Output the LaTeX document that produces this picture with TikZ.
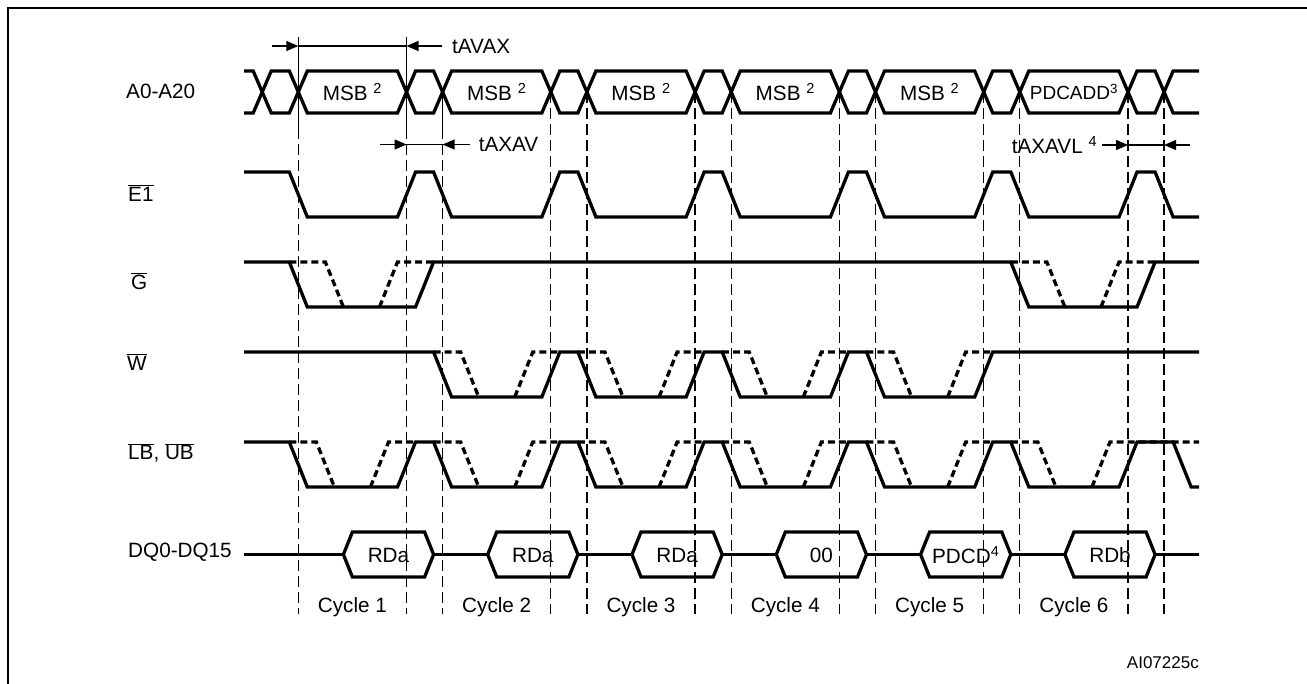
\documentclass[tikz,border=0pt]{standalone}
\usepackage{fontspec}
\setmainfont{Liberation Sans}
\usetikzlibrary{arrows.meta}
\newcommand\ovl[1]{\ensuremath{\overline{\mbox{#1}}}}
\begin{document}
\begin{tikzpicture}[x=1pt,y=-1pt,
  declare function={X(\k,\a)=298.3+144.3*\k+18.04*\a;},
  sig/.style={line width=3.3pt, line join=miter},
  dsig/.style={line width=3.3pt, dash pattern=on 7pt off 4pt},
  guide/.style={line width=1.3pt, dash pattern=on 11pt off 5pt},
  sguide/.style={line width=1.3pt},
  lbl/.style={font=\fontsize{20.7}{24}\selectfont, inner sep=0pt},
  smalllbl/.style={font=\fontsize{19}{22}\selectfont, inner sep=0pt},
  meas/.style={line width=1.3pt},
  tip/.style={-{Triangle[length=12pt,width=10pt]}},
]
\useasboundingbox (0,0) rectangle (1307,684);
% frame
\draw[line width=2.4pt] (8,684) -- (8,8) -- (1307,8);

\def\BT{71}\def\BB{113}\def\BM{92}
% guide lines
\foreach \k/\a in {0/0,0/6}{
  \draw[sguide] ({X(\k,\a)},37) -- ({X(\k,\a)},128);
  \draw[guide] ({X(\k,\a)},128) -- ({X(\k,\a)},614);
}
\draw[sguide] ({X(1,0)},\BM) -- ({X(1,0)},128);
\draw[guide] ({X(1,0)},128) -- ({X(1,0)},614);
\foreach \k in {1,...,5}{
  \draw[guide] ({X(\k,6)},\BM) -- ({X(\k,6)},614);
  \draw[guide] ({X(\k+1,0)},\BM) -- ({X(\k+1,0)},614);
}

% measurements
\coordinate (avax1) at ({X(0,0)},46);
\coordinate (avax2) at ({X(0,6)},46);
\draw[meas,tip] (271.5,46) -- (avax1);
\draw[meas] (avax1) -- (avax2);
\draw[meas,tip] (442,46) -- (avax2);
\node[lbl,anchor=west] (tavax) at (452,46) {tAVAX};

\coordinate (axav1) at ({X(0,6)},144.5);
\coordinate (axav2) at ({X(1,0)},144.5);
\draw[meas,tip] (380,144.5) -- (axav1);
\draw[meas] (axav1) -- (axav2);
\draw[meas,tip] (470,144.5) -- (axav2);
\node[lbl,anchor=west] (taxav) at (478.6,144.5) {tAXAV};

\coordinate (axavl1) at ({X(5,6)},145);
\coordinate (axavl2) at ({X(6,0)},145);
\draw[meas,tip] (1102,145) -- (axavl1);
\draw[meas] (axavl1) -- (axavl2);
\draw[meas,tip] (1190,145) -- (axavl2);
\node[lbl,anchor=west] (taxavl) at (1011.6,145) {tAXAVL \textsuperscript{4}};

% left labels
\node[lbl,anchor=west] (la) at (126,91) {A0-A20};
\node[lbl,anchor=west] (le) at (128,193) {\ovl{E1}};
\node[lbl,anchor=west] (lg) at (131,281) {\ovl{G}};
\node[lbl,anchor=west] (lw) at (127,362) {\ovl{W}};
\node[lbl,anchor=west] (llb) at (128,453) {\ovl{LB}, \ovl{UB}};
\node[lbl,anchor=west] (ldq) at (128,552) {DQ0-DQ15};

% address bus
\draw[sig] (244.2,\BT) \foreach \k in {0,...,6}{
   -- ({X(\k,-2.5)},\BT) -- ({X(\k,-1.5)},\BB) -- ({X(\k,-0.5)},\BB) -- ({X(\k,0.5)},\BT)
  } -- (1199,\BT);
\draw[sig] (244.2,\BB) \foreach \k in {0,...,6}{
   -- ({X(\k,-2.5)},\BB) -- ({X(\k,-1.5)},\BT) -- ({X(\k,-0.5)},\BT) -- ({X(\k,0.5)},\BB)
  } -- (1199,\BB);
\foreach \k in {0,...,4}{
  \node[lbl] (msb\k) at ({X(\k,3)},\BM) {MSB \textsuperscript{2}};
}
\node[smalllbl] (pdcadd) at ({X(5,3)},\BM) {PDCADD\textsuperscript{3}};

% E1
\draw[sig] (244.2,172) \foreach \k in {0,...,5}{
   -- ({X(\k,-0.5)},172) -- ({X(\k,0.5)},217) -- ({X(\k,5.5)},217) -- ({X(\k,6.5)},172)
  } -- ({X(6,-0.5)},172) -- ({X(6,0.5)},217) -- (1199,217);

% G
\draw[sig] (244.2,262) -- ({X(0,-0.5)},262) -- ({X(0,0.5)},307) -- ({X(0,6.5)},307) -- ({X(0,7.5)},262)
  -- ({X(5,-0.5)},262) -- ({X(5,0.5)},307) -- ({X(5,6.5)},307) -- ({X(5,7.5)},262) -- (1199,262);
\foreach \k in {0,5}{
  \draw[dsig] ({X(\k,-0.5)},262) -- ({X(\k,1.5)},262) -- ({X(\k,2.5)},307);
  \draw[dsig] ({X(\k,4.5)},307) -- ({X(\k,5.5)},262) -- ({X(\k,7.5)},262);
}

% W
\draw[sig] (244.2,352) \foreach \k in {1,...,4}{
   -- ({X(\k,-0.5)},352) -- ({X(\k,0.5)},397) -- ({X(\k,5.5)},397) -- ({X(\k,6.5)},352)
  } -- (1199,352);
\foreach \k in {1,...,4}{
  \draw[dsig] ({X(\k,-0.5)},352) -- ({X(\k,1)},352) -- ({X(\k,2)},397);
  \draw[dsig] ({X(\k,4)},397) -- ({X(\k,5)},352) -- ({X(\k,6.5)},352);
}

% LB UB
\draw[sig] (244.2,442) \foreach \k in {0,...,5}{
   -- ({X(\k,-0.5)},442) -- ({X(\k,0.5)},487) -- ({X(\k,5.5)},487) -- ({X(\k,6.5)},442)
  } -- ({X(6,0.5)},442) -- ({X(6,1.5)},487) -- (1199,487);
\foreach \k in {0,...,4}{
  \draw[dsig] ({X(\k,-0.5)},442) -- ({X(\k,1)},442) -- ({X(\k,2)},487);
  \draw[dsig] ({X(\k,4)},487) -- ({X(\k,5)},442) -- ({X(\k,6.5)},442);
}
\draw[dsig] ({X(5,-0.5)},442) -- ({X(5,1)},442) -- ({X(5,2)},487);
\draw[dsig] ({X(5,4)},487) -- ({X(5,5)},442) -- (1199,442);

% DQ
\draw[sig] (244.2,554.5) -- ({X(0,2.5)},554.5);
\foreach \k in {0,...,4}{
  \draw[sig] ({X(\k,7.5)},554.5) -- ({X(\k+1,2.5)},554.5);
}
\draw[sig] ({X(5,7.5)},554.5) -- (1199,554.5);
\foreach \k/\t in {0/RDa,1/RDa,2/RDa,3/00,4/PDCD\textsuperscript{4},5/RDb}{
  \draw[sig] ({X(\k,2.5)},554.5) -- ({X(\k,3)},532) -- ({X(\k,7)},532) -- ({X(\k,7.5)},554.5)
     -- ({X(\k,7)},577) -- ({X(\k,3)},577) -- cycle;
  \node[lbl] (dq\k) at ({X(\k,5)},555) {\t};
}

% cycles
\foreach \k in {0,...,5}{
  \pgfmathtruncatemacro\n{\k+1}
  \node[lbl] (cyc\k) at ({X(\k,3)},607) {Cycle \n};
}
\node[font=\fontsize{17}{20}\selectfont, inner sep=0pt, anchor=east] (code) at (1199,663) {AI07225c};
\end{tikzpicture}
\end{document}
